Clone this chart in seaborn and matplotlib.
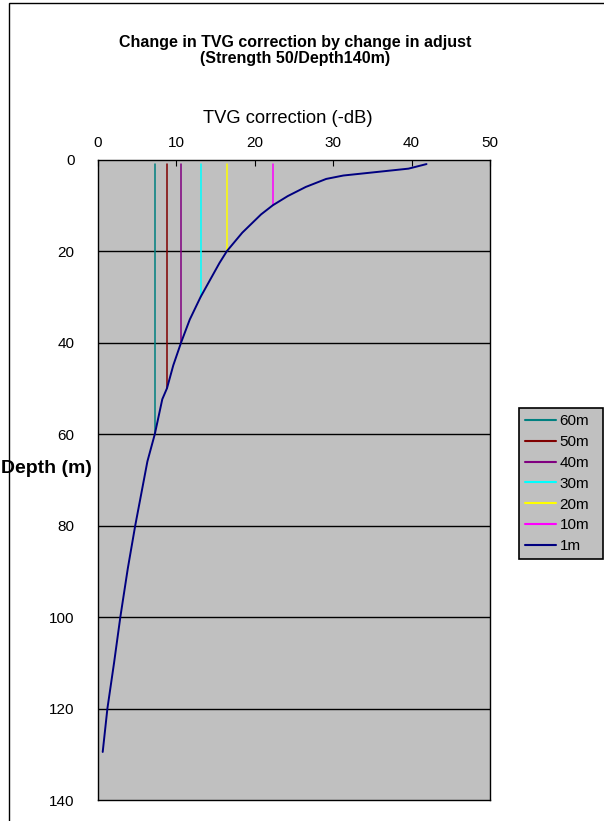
import numpy as np
import pandas as pd
import matplotlib.pyplot as plt
import matplotlib.patches as mpatches
import seaborn as sns

sns.set_style("white")
plt.rcParams['font.family'] = ['Liberation Sans', 'DejaVu Sans']
plt.rcParams['text.color'] = 'black'
plt.rcParams['axes.labelcolor'] = 'black'
plt.rcParams['xtick.color'] = 'black'
plt.rcParams['ytick.color'] = 'black'

# curva de 1m: profundidade (m) x correcao TVG (-dB)
depth_1m = [1, 2, 3.5, 4.25, 6, 8, 10, 12, 16, 20, 22.6, 30, 35, 40, 45, 50, 52.4, 60, 66,
            80, 89.4, 100, 110, 120, 129.5]
tvg_1m = [41.9, 39.6, 31.3, 29.1, 26.5, 24.2, 22.3, 20.8, 18.4, 16.45, 15.5, 13.1, 11.7,
          10.6, 9.6, 8.8, 8.2, 7.25, 6.3, 4.75, 3.8, 2.85, 2.05, 1.2, 0.6]

# linhas de ajuste (retas verticais)
adjust_names = ['60m', '50m', '40m', '30m', '20m', '10m']
adjust_tvg = [7.25, 8.8, 10.6, 13.1, 16.45, 22.3]
adjust_top = [1, 1, 1, 1, 1, 1]
adjust_bottom = [60, 50, 40, 30, 20, 10]

series_order = adjust_names + ['1m']
cores = {'60m': '#008080', '50m': '#800000', '40m': '#800080', '30m': '#00FFFF',
         '20m': '#FFFF00', '10m': '#FF00FF', '1m': '#000080'}

linhas = []
for nome, v, d0, d1 in zip(adjust_names, adjust_tvg, adjust_top, adjust_bottom):
    linhas.append(pd.DataFrame({'serie': nome, 'tvg': [v, v], 'depth': [d0, d1]}))
linhas.append(pd.DataFrame({'serie': '1m', 'tvg': tvg_1m, 'depth': depth_1m}))
df = pd.concat(linhas, ignore_index=True)

fig = plt.figure(figsize=(6.04, 8.21), dpi=100)
ax = fig.add_axes([98 / 604, 1 - 800 / 821, 392 / 604, 640.5 / 821])
ax.set_facecolor('#C0C0C0')

sns.lineplot(data=df, x='tvg', y='depth', hue='serie', hue_order=series_order,
             palette=cores, sort=False, estimator=None, orient='y', ax=ax,
             linewidth=1.1, legend=False)
# curva principal um pouco mais grossa
ax.lines[-1].set_linewidth(1.4)

ax.set_xlim(0, 50)
ax.set_ylim(140, 0)
ax.set_xticks(range(0, 51, 10))
ax.set_yticks(range(0, 141, 20))
for d in range(20, 140, 20):
    ax.axhline(d, color='black', lw=1.0, zorder=1)

ax.xaxis.tick_top()
ax.xaxis.set_label_position('top')
ax.tick_params(axis='x', direction='in', length=4, pad=7, labelsize=11)
ax.tick_params(axis='y', direction='in', length=4, pad=17, labelsize=11)
ax.set_xlabel('TVG correction (-dB)', fontsize=13.2)
ax.xaxis.set_label_coords(0.485, 1 + (159.5 - 118) / 640.5)
ax.xaxis.label.set_va('center')
ax.set_ylabel('Depth (m)', fontsize=14, fontweight='bold', rotation=0, ha='center', va='center')
ax.yaxis.set_label_coords(-0.131, 0.518)
for s in ax.spines.values():
    s.set_color('black')
    s.set_linewidth(1.0)

fig.text(0.488, 1 - 43 / 821, 'Change in TVG correction by change in adjust',
         ha='center', va='center', fontsize=11.5, fontweight='bold')
fig.text(0.488, 1 - 59 / 821, '(Strength 50/Depth140m)',
         ha='center', va='center', fontsize=11.5, fontweight='bold')

handles = [plt.Line2D([], [], color=cores[n], lw=1.5) for n in series_order]
leg_top = 1 - 408 / 821
leg = fig.legend(handles, series_order, loc='upper left', mode='expand',
                 bbox_to_anchor=(519 / 604, leg_top - 150 / 821, 84 / 604, 150 / 821),
                 borderaxespad=0, fontsize=11, frameon=True, fancybox=False,
                 framealpha=1, facecolor='#C0C0C0', edgecolor='black',
                 handlelength=2.0, handletextpad=0.25, labelspacing=0.45, borderpad=0.4)
leg.get_frame().set_linewidth(1.2)

# moldura externa do grafico
fig.patches.append(mpatches.Rectangle((9 / 604, -0.1), 1.2, 1.1 - 3 / 821, fill=False,
                                      edgecolor='black', lw=1.0, transform=fig.transFigure))

fig.savefig('out.png', dpi=100)
